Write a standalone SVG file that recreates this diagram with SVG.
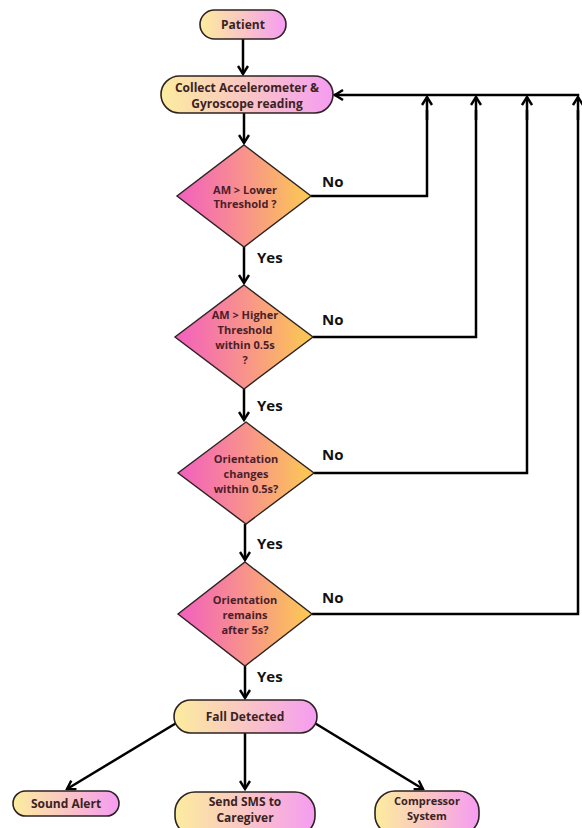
<svg xmlns="http://www.w3.org/2000/svg" width="582" height="828" viewBox="0 0 582 828">
<defs>
<linearGradient id="gp" x1="0" y1="0" x2="1" y2="0">
<stop offset="0" stop-color="#fcec9e"/>
<stop offset="0.5" stop-color="#f9c6c4"/>
<stop offset="1" stop-color="#f59cf2"/>
</linearGradient>
<linearGradient id="gd" x1="0" y1="0" x2="1" y2="0">
<stop offset="0" stop-color="#f25fbf"/>
<stop offset="0.5" stop-color="#f8928c"/>
<stop offset="1" stop-color="#fccb50"/>
</linearGradient>
<marker id="ah" viewBox="0 0 12 12" refX="10" refY="6" markerWidth="12" markerHeight="12" markerUnits="userSpaceOnUse" orient="auto">
<path d="M2,1 L10,6 L2,11" fill="none" stroke="#000" stroke-width="2.4"/>
</marker>
<style>
.pill{fill:url(#gp);stroke:#2e2222;stroke-width:1.6}
.dia{fill:url(#gd);stroke:#2e2222;stroke-width:1.4}
.t{font-family:"Open Sans","Liberation Sans",sans-serif;font-weight:700;font-size:12px;fill:#3a2324;text-anchor:middle}
.ts{font-family:"Open Sans","Liberation Sans",sans-serif;font-weight:700;font-size:11px;fill:#3a2324;text-anchor:middle}
.td{font-family:"Open Sans","Liberation Sans",sans-serif;font-weight:700;font-size:11px;fill:#4a1e2a;text-anchor:middle}
.lb{font-family:"Open Sans","Liberation Sans",sans-serif;font-weight:700;font-size:15px;fill:#111}
.c{fill:none;stroke:#000;stroke-width:2.5}
.a{marker-end:url(#ah)}
</style>
</defs>
<g id="connectors">
<path class="c a" d="M243,39 L243,74"/>
<path class="c a" d="M244,113 L244,143"/>
<path class="c a" d="M244,247 L244,283"/>
<path class="c a" d="M244,389 L244,420"/>
<path class="c a" d="M245,524 L245,560"/>
<path class="c a" d="M245,666 L245,698"/>
<path class="c a" d="M178,722 L67,789"/>
<path class="c a" d="M245,733 L245,789"/>
<path class="c a" d="M313,722 L423,789"/>
<path class="c" d="M311,196 L427,196 L427,110"/>
<path class="c a" d="M427,120 L427,97"/>
<path class="c" d="M313,337 L476,337 L476,110"/>
<path class="c a" d="M476,120 L476,97"/>
<path class="c" d="M314,473 L527,473 L527,110"/>
<path class="c a" d="M527,120 L527,97"/>
<path class="c" d="M312,614 L578,614 L578,110"/>
<path class="c a" d="M578,120 L578,97"/>
<path class="c a" d="M578,95 L335,95" stroke-linecap="square"/>
<text class="lb" x="257" y="263">Yes</text>
<text class="lb" x="257" y="411">Yes</text>
<text class="lb" x="257" y="549">Yes</text>
<text class="lb" x="257" y="682">Yes</text>
<text class="lb" x="322" y="187">No</text>
<text class="lb" x="322" y="325">No</text>
<text class="lb" x="322" y="460">No</text>
<text class="lb" x="322" y="603">No</text>
</g>
<g id="patient">
<rect class="pill" x="200" y="10" width="86" height="29" rx="14.5"/>
<text class="t" x="243" y="28.5">Patient</text>
</g>
<g id="collect">
<rect class="pill" x="161" y="76" width="172" height="37" rx="18.5"/>
<text class="t" x="247" y="92">Collect Accelerometer &amp;</text>
<text class="t" x="247" y="108">Gyroscope reading</text>
</g>
<g id="d1">
<polygon class="dia" points="244,145 311,196 244,247 177,196"/>
<text class="td" x="245" y="194">AM &gt; Lower</text>
<text class="td" x="245" y="208">Threshold ?</text>
</g>
<g id="d2">
<polygon class="dia" points="244,285 313,337 244,389 175,337"/>
<text class="td" x="245" y="319">AM &gt; Higher</text>
<text class="td" x="245" y="334">Threshold</text>
<text class="td" x="245" y="349">within 0.5s</text>
<text class="td" x="245" y="364">?</text>
</g>
<g id="d3">
<polygon class="dia" points="246,422 314,473 246,524 178,473"/>
<text class="td" x="246" y="463">Orientation</text>
<text class="td" x="246" y="478">changes</text>
<text class="td" x="246" y="493">within 0.5s?</text>
</g>
<g id="d4">
<polygon class="dia" points="245,562 312,614 245,666 178,614"/>
<text class="td" x="245" y="604">Orientation</text>
<text class="td" x="245" y="619">remains</text>
<text class="td" x="245" y="634">after 5s?</text>
</g>
<g id="fall">
<rect class="pill" x="174" y="700" width="143" height="33" rx="16.5"/>
<text class="t" x="245" y="721">Fall Detected</text>
</g>
<g id="sound">
<rect class="pill" x="13" y="791" width="106" height="25" rx="12.5"/>
<text class="t" x="66" y="807.5">Sound Alert</text>
</g>
<g id="sms">
<rect class="pill" x="175" y="792" width="140" height="44" rx="20"/>
<text class="t" x="245" y="806">Send SMS to</text>
<text class="t" x="245" y="822">Caregiver</text>
</g>
<g id="compressor">
<rect class="pill" x="375" y="791" width="104" height="44" rx="20"/>
<text class="ts" x="427" y="805">Compressor</text>
<text class="ts" x="427" y="820">System</text>
</g>
</svg>
